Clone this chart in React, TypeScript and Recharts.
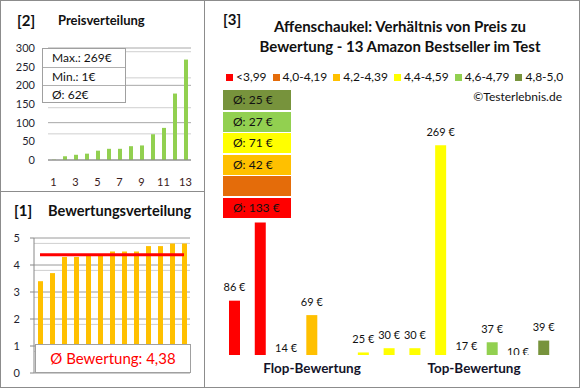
import React from 'react';
import {
  BarChart,
  Bar,
  ComposedChart,
  Line,
  XAxis,
  YAxis,
  CartesianGrid,
  Cell,
  LabelList,
} from 'recharts';

const FONT = 'Lato, "DejaVu Sans", sans-serif';
const BORDER = '#8c8c8c';

// [2] Preisverteilung (sorted prices)
const priceRanks = ['1', '2', '3', '4', '5', '6', '7', '8', '9', '10', '11', '12', '13'];
const sortedPrices = [1, 10, 14, 17, 25, 30, 30, 37, 39, 69, 86, 178, 269];
const priceTicks = [0, 50, 100, 150, 200, 250, 300];
const priceStats = ['Max.: 269€', 'Min.: 1€', 'Ø: 62€'];

// [1] Bewertungsverteilung (sorted ratings)
const sortedRatings = [3.4, 3.7, 4.3, 4.3, 4.4, 4.4, 4.5, 4.5, 4.5, 4.7, 4.7, 4.8, 4.8];
const avgRating = 4.38;
const ratingTicks = [0, 1, 2, 3, 4, 5];
const avgRatingText = 'Ø Bewertung: 4,38';

// [3] price per product, grouped by rating class
const productPrices = [86, 178, 14, 69, 1, 25, 30, 30, 269, 17, 37, 10, 39];
const productClass = [0, 0, 2, 2, 3, 3, 3, 3, 3, 4, 4, 5, 5];
// labels hidden in the original (covered by the average boxes / below the axis)
const productLabelShown = [true, false, true, true, false, true, true, true, true, true, true, true, true];
const classLabels = ['<3,99', '4,0-4,19', '4,2-4,39', '4,4-4,59', '4,6-4,79', '4,8-5,0'];
const classColors = ['#FF0000', '#E46C0A', '#FFC000', '#FFFF00', '#92D050', '#77933C'];
const classAvg = ['Ø: 133 €', '', 'Ø: 42 €', 'Ø: 71 €', 'Ø: 27 €', 'Ø: 25 €'];
const groupLabels = ['Flop-Bewertung', 'Top-Bewertung'];

const minorSteps = (max: number, step: number, major: number) =>
  Array.from({ length: Math.round(max / step) + 1 }, (_, i) => +(i * step).toFixed(2)).filter(
    (v) => Math.abs(v / major - Math.round(v / major)) > 1e-6
  );

const priceData = priceRanks.map((rank, i) => ({ rank, price: sortedPrices[i] }));
const ratingData = sortedRatings.map((rating, i) => ({ rank: priceRanks[i], rating, avg: avgRating }));
const productData = productPrices.map((price, i) => ({ id: i + 1, price, cls: productClass[i] }));

const MAIN_W = 375;
const MAIN_H = 388;
const MAIN_MARGIN = { top: 119, right: 22, bottom: 33, left: 18 };

const PriceLabel = (props: any) => {
  const { x, y, width, value, index } = props;
  if (!productLabelShown[index]) return null;
  return (
    <text
      x={x + width / 2}
      y={y - 9.5}
      textAnchor="middle"
      fontSize={11}
      fill="#111"
      fontFamily={FONT}
      clipPath="url(#mainPlotClip)"
    >
      {value} €
    </text>
  );
};

const abs = (left: number, top: number, extra: React.CSSProperties = {}): React.CSSProperties => ({
  position: 'absolute',
  left,
  top,
  ...extra,
});

export default function App() {
  return (
    <div style={abs(0, 0, { width: 580, height: 390, background: '#fff', fontFamily: FONT, color: '#111' })}>
      <svg width={0} height={0} style={{ position: 'absolute' }}>
        <defs>
          <clipPath id="mainPlotClip">
            <rect x={0} y={0} width={MAIN_W} height={MAIN_H - MAIN_MARGIN.bottom} />
          </clipPath>
        </defs>
      </svg>

      {/* [2] Preisverteilung */}
      <div style={abs(0, 0)}>
        <BarChart width={204} height={191} data={priceData} margin={{ top: 48, right: 13, left: 0, bottom: 0 }} barSize={4}>
          <CartesianGrid vertical={false} stroke="#cfcfcf" horizontalValues={minorSteps(300, 10, 50)} />
          <CartesianGrid vertical={false} stroke="#a8a8a8" horizontalValues={priceTicks} />
          <XAxis
            dataKey="rank"
            interval={1}
            height={31}
            tickLine={false}
            axisLine={{ stroke: '#888' }}
            tickMargin={12}
            tick={{ fill: '#3a2020', fontSize: 11, fontFamily: FONT }}
          />
          <YAxis
            width={48}
            domain={[0, 300]}
            ticks={priceTicks}
            axisLine={false}
            tickLine={false}
            tickMargin={7}
            tick={{ fill: '#1f1f2f', fontSize: 11, fontFamily: FONT }}
          />
          <Bar dataKey="price" fill="#92D050" isAnimationActive={false} />
        </BarChart>
      </div>
      <div style={abs(17, 11, { fontSize: 15, fontWeight: 700 })}>[2]</div>
      <div style={abs(58, 12, { fontSize: 13, fontWeight: 700 })}>Preisverteilung</div>
      <div
        style={abs(42, 48, {
          width: 84,
          height: 55,
          background: '#fff',
          border: '1px solid #a0a0a0',
          boxSizing: 'border-box',
        })}
      >
        {priceStats.map((s, i) => (
          <div
            key={s}
            style={{
              height: i === 2 ? 17 : 18,
              lineHeight: i === 2 ? '17px' : '18px',
              paddingLeft: 9,
              fontSize: 12,
              borderTop: i > 0 ? '1px solid #b0b0b0' : 'none',
              boxSizing: 'border-box',
            }}
          >
            {s}
          </div>
        ))}
      </div>

      {/* [1] Bewertungsverteilung */}
      <div style={abs(0, 191)}>
        <ComposedChart width={204} height={196} data={ratingData} margin={{ top: 47, right: 14, left: 0, bottom: 14 }} barSize={5}>
          <CartesianGrid vertical={false} stroke="#cfcfcf" horizontalValues={minorSteps(5, 0.2, 1)} />
          <CartesianGrid vertical={false} stroke="#9a9a9a" horizontalValues={ratingTicks} />
          <XAxis dataKey="rank" hide />
          <YAxis
            width={34}
            domain={[0, 5]}
            ticks={ratingTicks}
            axisLine={{ stroke: '#888' }}
            tickLine={{ stroke: '#888' }}
            tickSize={4}
            tickMargin={10}
            tick={{ fill: '#1f1f2f', fontSize: 11, fontFamily: FONT }}
          />
          <Bar dataKey="rating" fill="#FFC000" isAnimationActive={false} />
          <Line dataKey="avg" stroke="#FF0000" strokeWidth={3} dot={false} activeDot={false} isAnimationActive={false} />
        </ComposedChart>
      </div>
      <div style={abs(14, 201, { fontSize: 15, fontWeight: 700 })}>[1]</div>
      <div style={abs(48, 202, { fontSize: 14.6, fontWeight: 700 })}>Bewertungsverteilung</div>
      <div
        style={abs(35, 344, {
          width: 156,
          height: 29,
          background: '#fff',
          border: '1px solid #a0a0a0',
          boxSizing: 'border-box',
          textAlign: 'center',
          lineHeight: '27px',
          color: '#FF0000',
          fontSize: 15,
        })}
      >
        {avgRatingText}
      </div>

      {/* [3] Preis zu Bewertung */}
      <div style={abs(204, 0)}>
        <BarChart width={MAIN_W} height={MAIN_H} data={productData} margin={MAIN_MARGIN} barSize={11}>
          <XAxis dataKey="id" hide />
          <YAxis hide domain={[22, 300]} allowDataOverflow />
          <Bar dataKey="price" isAnimationActive={false}>
            {productData.map((d) => (
              <Cell key={d.id} fill={classColors[d.cls]} />
            ))}
            <LabelList dataKey="price" content={PriceLabel} />
          </Bar>
        </BarChart>
      </div>
      <div style={abs(223, 10, { fontSize: 15, fontWeight: 700 })}>[3]</div>
      <div style={abs(205, 16, { width: 390, textAlign: 'center', fontSize: 15, fontWeight: 700, lineHeight: '20px' })}>
        Affenschaukel: Verhältnis von Preis zu
        <br />
        Bewertung - 13 Amazon Bestseller im Test
      </div>
      <div style={abs(226, 69, { display: 'flex', alignItems: 'center', fontSize: 12, lineHeight: '16px' })}>
        {classLabels.map((l, i) => (
          <div key={l} style={{ display: 'flex', alignItems: 'center', marginRight: 6 }}>
            <div style={{ width: 7, height: 7, background: classColors[i], marginRight: 3 }} />
            <span>{l}</span>
          </div>
        ))}
      </div>
      <div style={abs(400, 89, { width: 162, textAlign: 'right', fontSize: 12 })}>©Testerlebnis.de</div>
      {classAvg.map((t, i) => (
        <div
          key={i}
          style={abs(223, 90 + (classAvg.length - 1 - i) * 21.6, {
            width: 68,
            height: 20,
            background: classColors[i],
            fontSize: 12,
            lineHeight: '20px',
            paddingLeft: 10,
            boxSizing: 'border-box',
          })}
        >
          {t}
        </div>
      ))}
      <div style={abs(252, 360, { width: 120, textAlign: 'center', fontSize: 13.5, fontWeight: 700, color: '#14142a' })}>
        {groupLabels[0]}
      </div>
      <div style={abs(414, 360, { width: 120, textAlign: 'center', fontSize: 13.5, fontWeight: 700, color: '#14142a' })}>
        {groupLabels[1]}
      </div>

      {/* panel frames */}
      <div style={abs(0, 0, { width: 580, height: 388, border: `1px solid ${BORDER}`, boxSizing: 'border-box' })} />
      <div style={abs(204, 0, { width: 1, height: 388, background: BORDER })} />
      <div style={abs(0, 191, { width: 205, height: 1, background: BORDER })} />
    </div>
  );
}
